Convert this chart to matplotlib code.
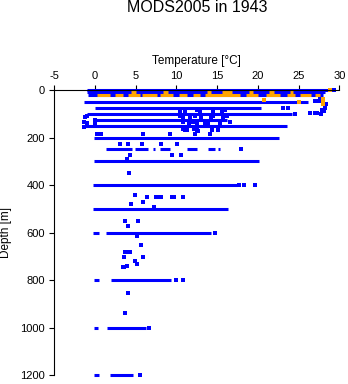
import matplotlib
matplotlib.use("Agg")
import matplotlib.pyplot as plt

plt.rcParams["font.family"] = ["Liberation Sans", "DejaVu Sans"]
plt.rcParams["axes.unicode_minus"] = False

BLUE = "#0000ff"
ORANGE = "#ffa500"

# dense standard-level casts: depth [m], temperature range [degC]
seg_depth = [0, 10, 20, 50, 75, 100, 125, 150, 200,
             250, 250, 250, 250, 250, 250, 250,
             300, 400, 500, 600, 600, 800, 800, 1000, 1000, 1200, 1200]
seg_tmin = [-1.0, -1.0, -0.8, -1.4, 0.0, -1.0, 0.0, -1.4, -0.1,
            1.4, 4.9, 7.1, 8.0, 11.3, 13.9, 15.1,
            -0.1, -0.2, -0.2, -0.2, 1.3, -0.1, 2.0, -0.1, 1.5, -0.1, 1.8]
seg_tmax = [28.6, 28.3, 28.0, 26.2, 20.4, 24.2, 16.2, 23.6, 22.6,
            4.6, 6.5, 7.4, 9.2, 12.5, 14.7, 15.3,
            20.1, 17.4, 16.3, 0.5, 14.2, 0.5, 9.3, 0.4, 6.2, 0.5, 4.7]

# isolated observations
pt_temp = [29.4, 27.0, 27.5, 23.1, 23.7, 24.6, 26.4, 27.0, 27.3,
           27.6, 27.8, 28.0, 28.2, 28.3, 27.9, 28.1, 27.7, 28.4,
           10.4, 11.0, 12.5, 12.9, 14.5, 15.6, 16.0,
           -1.2, -1.0, 10.4, 10.8, 11.7, 12.3, 13.0, 14.3, 14.5, 15.7, 16.2,
           -1.0, 0.0, 10.8, 11.5, 12.0, 12.5, 13.5, 13.9, 15.4, 16.6,
           -1.3, 0.0, -1.4, 10.8, 11.3, 12.2, 12.6, 14.4, 15.1,
           11.0, 11.3, 12.5, 14.4, 0.2, 0.5, 0.7, 5.9, 9.2, 12.3, 14.1,
           3.1, 4.0, 5.8, 8.1, 10.1, 17.9, 4.3, 9.4, 10.6, 3.9,
           4.2, 17.7, 18.3, 19.6, 4.9, 6.4, 7.5, 7.8, 8.1, 9.4, 9.7, 10.8,
           4.4, 5.9, 7.2, 3.7, 5.3, 4.0, 5.1, 14.7, 5.7, 3.7, 4.0, 4.3,
           3.6, 5.9, 4.9, 5.1, 3.4, 3.6, 3.9, 10.0, 10.8, 4.0, 3.7,
           6.6, 5.5]
pt_depth = [0, 48, 48, 77, 77, 101, 97, 97, 97,
            30, 40, 55, 65, 75, 85, 90, 100, 60,
            88, 90, 86, 92, 88, 90, 86,
            112, 108, 110, 114, 112, 110, 116, 112, 110, 114, 108,
            140, 128, 136, 140, 134, 145, 138, 142, 140, 136,
            133, 138, 157, 165, 170, 166, 172, 168, 170,
            168, 168, 168, 168, 183, 183, 183, 187, 187, 187, 187,
            229, 229, 229, 229, 229, 250, 274, 274, 274, 292,
            351, 400, 400, 400, 442, 452, 452, 452, 452, 452, 452, 452,
            481, 473, 493, 552, 549, 573, 613, 600, 653, 681, 681, 681,
            702, 702, 720, 733, 745, 745, 741, 800, 800, 852, 940,
            1000, 1200]

# second data source, surface layer
or_depth = [10, 10, 10, 10, 10, 10, 10,
            20, 20, 20, 20, 20, 20, 20, 20, 20, 20, 20, 20, 20]
or_tmin = [4.4, 8.4, 13.8, 15.6, 18.9, 21.4, 24.0,
           0.2, 2.4, 4.0, 5.8, 8.0, 10.3, 12.0, 13.5, 18.6, 21.0, 23.6, 25.2, 27.0]
or_tmax = [5.0, 9.0, 14.3, 16.8, 19.4, 22.0, 24.3,
           1.8, 3.4, 5.5, 7.6, 9.6, 11.3, 12.9, 17.8, 20.0, 22.7, 24.5, 26.5, 27.6]
or_pt_temp = [28.9, 20.8, 25.0, 28.0, 28.0, 28.0]
or_pt_depth = [0, 42, 49, 38, 48, 58]

fig = plt.figure(figsize=(3.48, 3.84), dpi=100)
ax = fig.add_axes([54.3 / 348, 8.7 / 384, 285 / 348, 285.3 / 384])

ax.hlines(seg_depth, seg_tmin, seg_tmax, colors=BLUE, lw=2.2,
          capstyle="butt", clip_on=False)
ax.plot(pt_temp, pt_depth, "s", color=BLUE, ms=2.6, mew=0, clip_on=False)
ax.hlines(or_depth, or_tmin, or_tmax, colors=ORANGE, lw=2.2,
          capstyle="butt", clip_on=False)
ax.plot(or_pt_temp, or_pt_depth, "s", color=ORANGE, ms=2.6, mew=0, clip_on=False)

ax.set_xlim(-5, 30)
ax.set_ylim(1200, 0)
ax.set_xticks(range(-5, 31, 5))
ax.set_yticks(range(0, 1201, 200))
ax.xaxis.tick_top()
ax.xaxis.set_label_position("top")
ax.tick_params(length=3.6, width=0.8, labelsize=8, pad=3)
ax.spines[["bottom", "right"]].set_visible(False)
ax.spines[["top", "left"]].set_linewidth(0.8)
ax.set_xlabel("Temperature [°C]", fontsize=8.5, labelpad=5)
ax.set_ylabel("Depth [m]", fontsize=8.5, labelpad=6)

fig.text(ax.get_position().x0 + ax.get_position().width / 2, 1 - 8 / 384,
         "MODS2005 in 1943", ha="center", va="center", fontsize=11.5)

fig.savefig("out.png", dpi=100, facecolor="white")
